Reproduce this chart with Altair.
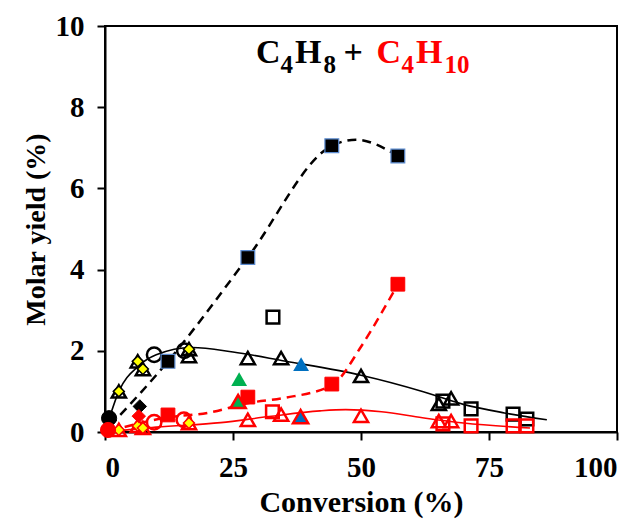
import altair as alt
import pandas as pd

# ---------------- data ----------------
# C4H8 (black) series
bk_fcircle_x = [0.8];  bk_fcircle_y = [0.34]
bk_ocircle_x = [9.6, 15.5];  bk_ocircle_y = [1.9, 2.0]
bk_tridia_x = [2.7, 6.4, 7.4, 16.4];  bk_tridia_y = [1.0, 1.74, 1.55, 2.04]
bk_fdiamond_x = [6.8];  bk_fdiamond_y = [0.63]
bk_fsquare_x = [12.3, 27.9, 44.3, 57.2];  bk_fsquare_y = [1.74, 4.3, 7.05, 6.8]
bk_otri_x = [16.4, 27.9, 34.4, 50.0, 65.2, 67.6];  bk_otri_y = [1.87, 1.82, 1.82, 1.38, 0.69, 0.83]
bk_osquare_x = [32.8, 66.0, 71.5, 79.7, 82.4];  bk_osquare_y = [2.83, 0.76, 0.57, 0.44, 0.32]
bk_greentri_x = [26.2];  bk_greentri_y = [1.3]
bk_bluetri_x = [38.3];  bk_bluetri_y = [1.67]

# C4H10 (red) series
rd_fcircle_x = [0.6];  rd_fcircle_y = [0.05]
rd_ocircle_x = [9.6, 15.4];  rd_ocircle_y = [0.24, 0.3]
rd_tridia_x = [2.7, 6.4, 7.4, 16.4];  rd_tridia_y = [0.05, 0.15, 0.1, 0.22]
rd_fdiamond_x = [6.6];  rd_fdiamond_y = [0.39]
rd_fsquare_x = [12.3, 27.9, 44.3, 57.2];  rd_fsquare_y = [0.42, 0.86, 1.18, 3.64]
rd_otri_x = [27.9, 34.4, 50.0, 65.2, 67.6];  rd_otri_y = [0.3, 0.43, 0.4, 0.27, 0.27]
rd_osquare_x = [32.7, 66.0, 71.5, 79.7, 82.4];  rd_osquare_y = [0.5, 0.2, 0.15, 0.15, 0.15]
rd_greentri_x = [26.0];  rd_greentri_y = [0.75]
rd_bluetri_x = [38.2];  rd_bluetri_y = [0.38]

# trend curves
bk_dash_x = [1.0, 12.3, 27.9, 44.3, 49.0, 57.2]
bk_dash_y = [0.15, 1.74, 4.3, 7.05, 7.2, 6.8]
rd_dash_x = [1.0, 12.3, 20.0, 28.3, 35.0, 44.3, 50.0, 53.3, 57.2]
rd_dash_y = [0.03, 0.36, 0.47, 0.72, 0.84, 1.15, 2.1, 2.78, 3.64]
bk_solid_x = [0.5, 2.7, 6.5, 10.0, 17.0, 25.0, 35.0, 50.0, 62.0, 70.0, 78.0, 86.3]
bk_solid_y = [0.2, 1.0, 1.62, 1.9, 2.08, 1.97, 1.75, 1.4, 1.0, 0.68, 0.47, 0.3]
rd_solid_x = [0.5, 10.0, 22.6, 32.0, 42.0, 47.0, 54.0, 62.0, 70.0, 83.0]
rd_solid_y = [0.0, 0.12, 0.23, 0.38, 0.52, 0.55, 0.5, 0.35, 0.22, 0.1]

x_ticks = [0, 25, 50, 75, 100]
y_ticks = [0, 2, 4, 6, 8, 10]

RED = "#FF0000"
GREEN = "#00B050"
BLUE = "#0070C0"
YELLOW = "#FFFF00"
FONT = "Liberation Serif"

xs = alt.Scale(domain=[0, 100], nice=False, zero=False)
ys = alt.Scale(domain=[0, 10], nice=False, zero=False)


def df(xv, yv):
    return pd.DataFrame({"x": xv, "y": yv})


def enc(ch):
    return ch.encode(
        x=alt.X("x:Q", scale=xs,
                axis=alt.Axis(title="Conversion (%)", values=x_ticks, format="d")),
        y=alt.Y("y:Q", scale=ys,
                axis=alt.Axis(title="Molar yield (%)", values=y_ticks, format="d")),
    )


def line(xv, yv, color, dash=None, width=2.0):
    kw = dict(color=color, strokeWidth=width, interpolate="monotone")
    if dash:
        kw["strokeDash"] = dash
    return enc(alt.Chart(df(xv, yv)).mark_line(**kw))


def pts(xv, yv, shape, size, fill=None, stroke=None, sw=2.0):
    kw = dict(shape=shape, size=size, opacity=1, strokeWidth=sw)
    if fill is not None:
        kw["filled"] = True
        kw["fill"] = fill
        kw["fillOpacity"] = 1
    else:
        kw["filled"] = False
        kw["fillOpacity"] = 0
    if stroke is not None:
        kw["stroke"] = stroke
        kw["strokeOpacity"] = 1
    else:
        kw["strokeWidth"] = 0
    return enc(alt.Chart(df(xv, yv)).mark_point(**kw))


layers = [
    line(bk_solid_x, bk_solid_y, "black", width=1.6),
    line(rd_solid_x, rd_solid_y, RED, width=1.6),
    line(bk_dash_x, bk_dash_y, "black", dash=[9, 6], width=2.5),
    line(rd_dash_x, rd_dash_y, RED, dash=[9, 6], width=2.5),
    # black series
    pts(bk_otri_x, bk_otri_y, "triangle-up", 200, None, "black", 2.5),
    pts(bk_osquare_x, bk_osquare_y, "square", 160, None, "black", 2.5),
    pts(bk_ocircle_x, bk_ocircle_y, "circle", 210, None, "black", 2.5),
    pts(bk_tridia_x, bk_tridia_y, "triangle-up", 200, None, "black", 2.5),
    pts(bk_tridia_x, bk_tridia_y, "diamond", 120, YELLOW, "black", 1.5),
    pts(bk_fdiamond_x, bk_fdiamond_y, "diamond", 180, "black", "black", 1),
    pts(bk_fcircle_x, bk_fcircle_y, "circle", 230, "black", "black", 1),
    pts(bk_fsquare_x, bk_fsquare_y, "square", 190, "black", "#5B8BD0", 1.2),
    pts(bk_greentri_x, bk_greentri_y, "triangle-up", 250, GREEN),
    pts(bk_bluetri_x, bk_bluetri_y, "triangle-up", 250, BLUE),
    # red series
    pts(rd_otri_x, rd_otri_y, "triangle-up", 200, None, RED, 2.5),
    pts(rd_osquare_x, rd_osquare_y, "square", 160, None, RED, 2.5),
    pts(rd_ocircle_x, rd_ocircle_y, "circle", 210, None, RED, 2.5),
    pts(rd_tridia_x, rd_tridia_y, "triangle-up", 200, None, RED, 2.5),
    pts(rd_tridia_x, rd_tridia_y, "diamond", 120, YELLOW, RED, 1.5),
    pts(rd_fdiamond_x, rd_fdiamond_y, "diamond", 180, RED, RED, 1),
    pts(rd_fcircle_x, rd_fcircle_y, "circle", 230, RED, RED, 1),
    pts(rd_fsquare_x, rd_fsquare_y, "square", 190, RED, RED, 1),
    pts(rd_greentri_x, rd_greentri_y, "triangle-up", 230, GREEN, RED, 2.5),
    pts(rd_bluetri_x, rd_bluetri_y, "triangle-up", 230, BLUE, RED, 2.5),
]

# title "C4H8 + C4H10" built from pieces (main text + subscripts)
MAIN, SUB = 34, 25
title_pieces = [
    ("C", 151.0, 36.7, MAIN, "black"),
    ("4", 175.5, 46.5, SUB, "black"),
    ("H", 190.0, 36.7, MAIN, "black"),
    ("8", 218.5, 46.5, SUB, "black"),
    ("+", 238.5, 36.7, MAIN, "black"),
    ("C", 271.5, 36.7, MAIN, RED),
    ("4", 296.5, 46.5, SUB, RED),
    ("H", 311.0, 36.7, MAIN, RED),
    ("10", 339.5, 46.5, SUB, RED),
]
for t, px, py, fs, col in title_pieces:
    layers.append(
        alt.Chart(pd.DataFrame({"t": [t]})).mark_text(
            align="left", baseline="alphabetic", font=FONT, fontWeight="bold",
            fontSize=fs, color=col
        ).encode(x=alt.value(px), y=alt.value(py), text="t:N")
    )

chart = alt.layer(*layers).properties(
    width=512, height=406,
    autosize=alt.AutoSizeParams(type="none"),
    padding={"left": 97, "top": 18, "right": 12, "bottom": 87},
).configure_view(
    stroke="black", strokeWidth=2
).configure_axis(
    grid=False,
    domainColor="black", domainWidth=2,
    tickColor="black", tickWidth=2, tickSize=8,
    labelFont=FONT, labelFontWeight="bold", labelFontSize=29, labelColor="black",
    titleFont=FONT, titleFontWeight="bold", titleColor="black",
    labelPadding=14,
).configure_axisX(
    titlePadding=5, titleFontSize=30, labelPadding=13
).configure_axisY(
    titlePadding=5, titleFontSize=28, labelPadding=13
)

chart.save("out.html", embed_options={"renderer": "svg", "actions": False})
